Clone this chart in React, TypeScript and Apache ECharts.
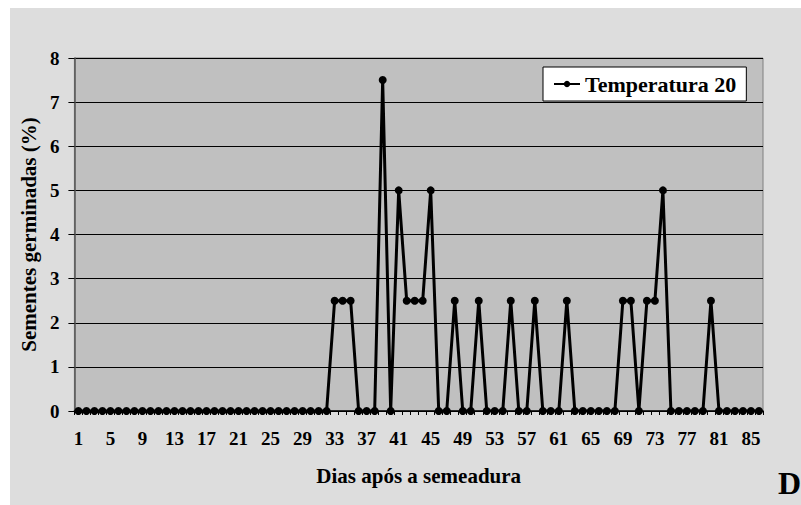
import React, { useEffect, useRef } from "react";
import * as echarts from "echarts";

const days: string[] = [
  "1","2","3","4","5","6","7","8","9","10","11","12","13","14","15","16","17","18","19","20",
  "21","22","23","24","25","26","27","28","29","30","31","32","33","34","35","36","37","38","39","40",
  "41","42","43","44","45","46","47","48","49","50","51","52","53","54","55","56","57","58","59","60",
  "61","62","63","64","65","66","67","68","69","70","71","72","73","74","75","76","77","78","79","80",
  "81","82","83","84","85","86",
];

const germinated: number[] = [
  0, 0, 0, 0, 0, 0, 0, 0, 0, 0, 0, 0, 0, 0, 0, 0, 0, 0, 0, 0,
  0, 0, 0, 0, 0, 0, 0, 0, 0, 0, 0, 0, 2.5, 2.5, 2.5, 0, 0, 0, 7.5, 0,
  5, 2.5, 2.5, 2.5, 5, 0, 0, 2.5, 0, 0, 2.5, 0, 0, 0, 2.5, 0, 0, 2.5, 0, 0,
  0, 2.5, 0, 0, 0, 0, 0, 0, 2.5, 2.5, 0, 2.5, 2.5, 5, 0, 0, 0, 0, 0, 2.5,
  0, 0, 0, 0, 0, 0,
];

const seriesName = "Temperatura 20";
const xTitle = "Dias após a semeadura";
const yTitle = "Sementes germinadas (%)";
const panelLabel = "D";

const FONT = "Liberation Serif, DejaVu Serif, serif";

export default function App() {
  const ref = useRef<HTMLDivElement>(null);
  useEffect(() => {
    if (!ref.current) return;
    const chart = echarts.init(ref.current, null, { renderer: "svg" });
    chart.setOption({
      animation: false,
      backgroundColor: "#DDDDDD",
      textStyle: { fontFamily: FONT },
      grid: {
        left: 60,
        top: 50,
        right: 38,
        bottom: 94,
        show: true,
        backgroundColor: "#C0C0C0",
        borderColor: "#808080",
        borderWidth: 1,
      },
      legend: {
        left: 533,
        top: 59,
        backgroundColor: "#FFFFFF",
        borderColor: "#000000",
        borderWidth: 1,
        borderRadius: 0,
        padding: [6, 10, 6, 10],
        itemWidth: 26,
        itemHeight: 8,
        itemGap: 6,
        textStyle: { fontFamily: FONT, fontSize: 22, fontWeight: "bold", color: "#000" },
        data: [seriesName],
      },
      xAxis: {
        type: "category",
        data: days,
        boundaryGap: true,
        name: xTitle,
        nameLocation: "middle",
        nameGap: 54,
        nameTextStyle: { fontFamily: FONT, fontSize: 21, fontWeight: "bold", color: "#000" },
        axisLine: { lineStyle: { color: "#000", width: 1.5 } },
        axisTick: { show: true, interval: 0, length: 4, lineStyle: { color: "#000" } },
        axisLabel: {
          interval: 3,
          margin: 18,
          fontFamily: FONT,
          fontSize: 19,
          fontWeight: "bold",
          color: "#000",
        },
        splitLine: { show: false },
      },
      yAxis: {
        type: "value",
        min: 0,
        max: 8,
        interval: 1,
        name: yTitle,
        nameLocation: "middle",
        nameGap: 23,
        nameTextStyle: { fontFamily: FONT, fontSize: 21, fontWeight: "bold", color: "#000" },
        axisLine: { show: true, lineStyle: { color: "#555", width: 1.5 } },
        axisTick: { show: true, length: 6, lineStyle: { color: "#000" } },
        axisLabel: {
          margin: 15,
          fontFamily: FONT,
          fontSize: 19,
          fontWeight: "bold",
          color: "#000",
        },
        splitLine: { show: true, lineStyle: { color: "#000", width: 1 } },
      },
      series: [
        {
          name: seriesName,
          type: "line",
          data: germinated,
          symbol: "circle",
          symbolSize: 8,
          showSymbol: true,
          showAllSymbol: true,
          lineStyle: { color: "#000", width: 3 },
          itemStyle: { color: "#000" },
        },
      ],
      graphic: [
        {
          type: "text",
          left: 768,
          top: 459,
          style: {
            text: panelLabel,
            fontFamily: FONT,
            fontSize: 32,
            fontWeight: "bold",
            fill: "#000",
          },
        },
      ],
    });
    return () => chart.dispose();
  }, []);
  return (
    <div
      ref={ref}
      style={{ position: "absolute", left: 10, top: 8, width: 791, height: 497, background: "#DDDDDD" }}
    />
  );
}
